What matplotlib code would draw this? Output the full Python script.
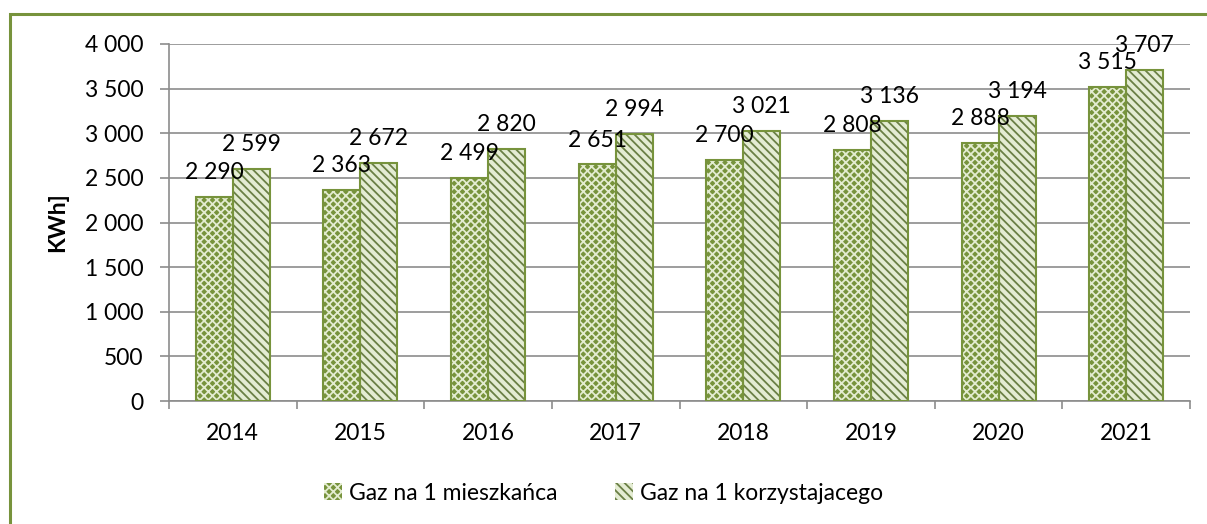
import matplotlib
matplotlib.use("Agg")
import matplotlib.pyplot as plt
import numpy as np
from matplotlib.patches import Rectangle, Patch

years = ["2014", "2015", "2016", "2017", "2018", "2019", "2020", "2021"]
gaz_mieszkanca = [2290, 2363, 2499, 2651, 2700, 2808, 2888, 3515]
gaz_korzystajacego = [2599, 2672, 2820, 2994, 3021, 3136, 3194, 3707]
series_names = ["Gaz na 1 mieszkańca", "Gaz na 1 korzystajacego"]
y_ticks = [0, 500, 1000, 1500, 2000, 2500, 3000, 3500, 4000]

plt.rcParams['font.family'] = ['Lato', 'DejaVu Sans']
plt.rcParams['hatch.linewidth'] = 1.3

GREEN = '#77933C'
LIGHT = '#e4ecd3'
GRID = '#8c8c8c'
FS = 16.5
H1 = 'xxxx'
H2 = '\\\\\\\\'

fig = plt.figure(figsize=(12.07, 5.24), dpi=100)
fig.patches.append(Rectangle((10/1207, -0.1), 1.2, 1 - 14/524 + 0.1, transform=fig.transFigure,
                             fill=False, edgecolor=GREEN, linewidth=2.2, zorder=0))
ax = fig.add_axes([169/1207, 1 - 401/524, (1190-169)/1207, (401-44)/524])

x = np.arange(len(years))
w = 0.29

def fmt(v):
    return f"{v:,}".replace(",", " ")

# series 1: green with light cross hatch
ax.bar(x - w/2, gaz_mieszkanca, w, color=GREEN, hatch=H1, edgecolor='#e3ecd0', linewidth=0, zorder=3)
ax.bar(x - w/2, gaz_mieszkanca, w, fill=False, edgecolor=GREEN, linewidth=1.5, zorder=4)
# series 2: light with green diagonal hatch
ax.bar(x + w/2, gaz_korzystajacego, w, color=LIGHT, hatch=H2, edgecolor='#6a7f45', linewidth=0, zorder=3)
ax.bar(x + w/2, gaz_korzystajacego, w, fill=False, edgecolor=GREEN, linewidth=1.5, zorder=4)

for xi, v in zip(x, gaz_mieszkanca):
    ax.annotate(fmt(v), (xi - w/2, v), xytext=(0, 10), textcoords='offset points',
                ha='center', va='bottom', fontsize=FS, zorder=6)
for xi, v in zip(x, gaz_korzystajacego):
    ax.annotate(fmt(v), (xi + w/2, v), xytext=(0, 10), textcoords='offset points',
                ha='center', va='bottom', fontsize=FS, zorder=6)

ax.set_xlim(-0.5, len(years) - 0.5)
ax.set_ylim(0, 4000)
ax.set_yticks(y_ticks)
ax.set_yticklabels([fmt(t) for t in y_ticks], fontsize=FS)
ax.yaxis.grid(True, color=GRID, linewidth=1.2, zorder=0)
ax.set_axisbelow(True)

ax.set_xticks(x)
ax.set_xticklabels(years, fontsize=FS)
ax.set_xticks(np.arange(-0.5, len(years)), minor=True)
ax.tick_params(axis='x', which='major', length=0, pad=16)
ax.tick_params(axis='x', which='minor', length=6, width=1.2, color=GRID)
ax.tick_params(axis='y', length=6.5, width=1.2, color=GRID, pad=12)

for s in ['top', 'right']:
    ax.spines[s].set_visible(False)
for s in ['left', 'bottom']:
    ax.spines[s].set_color(GRID)
    ax.spines[s].set_linewidth(1.2)

ax.set_ylabel("KWh]", fontsize=FS, fontweight='bold', labelpad=12)

handles = [Patch(facecolor=GREEN, hatch=H1, edgecolor='#e3ecd0', linewidth=0),
           Patch(facecolor=LIGHT, hatch=H2, edgecolor='#6a7f45', linewidth=0)]
fig.legend(handles, series_names, loc='center', bbox_to_anchor=(0.5, 1 - 493/524), ncol=2,
           frameon=False, fontsize=FS, handlelength=0.8, handleheight=0.8, handletextpad=0.3,
           columnspacing=2.5)

fig.savefig("out.png", dpi=100)
